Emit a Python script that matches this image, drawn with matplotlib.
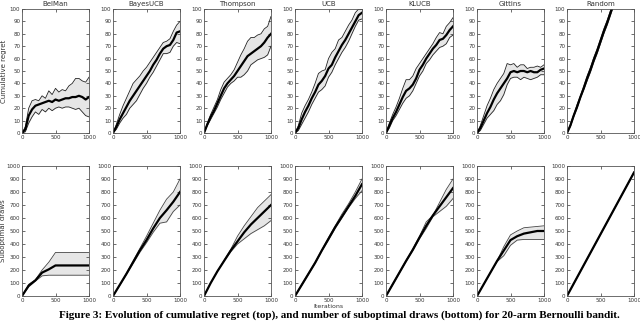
import numpy as np
import matplotlib
matplotlib.use("Agg")
import matplotlib.pyplot as plt

names = ["BelMan", "BayesUCB", "Thompson", "UCB", "KLUCB", "Gittins", "Random"]

# top row: cumulative regret, sampled every 50 iterations
x_top = np.arange(0, 1001, 50)
regret_mean = {
    "BelMan":   [0, 3, 14, 19, 22, 23, 24, 25, 26, 25, 27, 26, 27, 28, 28, 29, 29, 30, 29, 27, 29],
    "BayesUCB": [0, 5, 11, 16, 21, 26, 30, 34, 38, 42, 46, 50, 55, 59, 64, 68, 70, 71, 75, 81, 82],
    "Thompson": [0, 7, 13, 18, 24, 30, 36, 40, 43, 46, 50, 54, 58, 62, 64, 66, 68, 70, 73, 77, 80],
    "UCB":      [0, 4, 11, 17, 22, 28, 33, 39, 42, 46, 52, 55, 61, 66, 71, 75, 80, 85, 90, 95, 97],
    "KLUCB":    [0, 6, 12, 17, 23, 29, 34, 36, 39, 44, 51, 55, 60, 64, 68, 71, 75, 76, 79, 83, 86],
    "Gittins":  [0, 4, 10, 16, 21, 27, 32, 36, 40, 44, 49, 50, 49, 50, 50, 49, 50, 49, 49, 51, 52],
    "Random":   [0, 6, 14, 21, 29, 36, 44, 51, 59, 66, 74, 82, 89, 97, 105, 112, 120, 127, 135, 142, 150],
}
regret_upper = {
    "BelMan":   [0, 5, 20, 26, 27, 26, 30, 28, 34, 31, 36, 33, 35, 34, 38, 40, 44, 44, 42, 41, 45],
    "BayesUCB": [0, 7, 15, 22, 28, 34, 40, 43, 46, 50, 53, 57, 61, 65, 69, 73, 74, 76, 82, 87, 90],
    "Thompson": [0, 8, 15, 21, 27, 35, 41, 44, 47, 51, 57, 63, 68, 74, 77, 77, 79, 80, 84, 86, 94],
    "UCB":      [0, 6, 16, 22, 27, 33, 40, 48, 50, 51, 60, 65, 68, 75, 77, 82, 87, 91, 97, 100, 100],
    "KLUCB":    [0, 8, 15, 21, 28, 36, 43, 43, 46, 52, 56, 60, 64, 68, 72, 77, 81, 80, 86, 89, 93],
    "Gittins":  [0, 6, 14, 22, 28, 35, 40, 44, 48, 56, 55, 56, 53, 55, 55, 52, 53, 53, 54, 53, 55],
    "Random":   [0, 7, 15, 23, 30, 38, 46, 53, 61, 68, 76, 84, 91, 99, 107, 114, 122, 129, 137, 144, 152],
}
regret_lower = {
    "BelMan":   [0, 1, 8, 13, 17, 15, 19, 17, 20, 18, 20, 21, 20, 21, 21, 20, 19, 20, 17, 14, 13],
    "BayesUCB": [0, 3, 8, 12, 15, 20, 23, 26, 31, 36, 40, 45, 49, 54, 59, 64, 64, 65, 70, 73, 72],
    "Thompson": [0, 6, 11, 16, 21, 27, 32, 37, 40, 42, 45, 45, 47, 50, 55, 57, 59, 60, 61, 63, 70],
    "UCB":      [0, 2, 7, 12, 17, 23, 28, 33, 35, 38, 45, 49, 55, 60, 65, 69, 74, 80, 86, 91, 92],
    "KLUCB":    [0, 4, 10, 14, 19, 24, 28, 30, 34, 40, 46, 50, 56, 59, 63, 66, 69, 70, 72, 77, 79],
    "Gittins":  [0, 2, 7, 12, 15, 18, 23, 26, 31, 39, 44, 45, 45, 43, 45, 44, 43, 44, 45, 47, 47],
    "Random":   [0, 5, 13, 20, 28, 35, 42, 49, 57, 64, 72, 80, 87, 95, 103, 110, 118, 125, 133, 140, 148],
}

# bottom row: suboptimal draws, sampled every 100 iterations
x_bot = np.arange(0, 1001, 100)
draws_mean = {
    "BelMan":   [0, 80, 120, 180, 205, 235, 235, 235, 235, 235, 235],
    "BayesUCB": [0, 85, 170, 260, 350, 430, 520, 600, 660, 725, 800],
    "Thompson": [0, 100, 190, 270, 350, 420, 490, 550, 600, 650, 700],
    "UCB":      [0, 85, 170, 255, 350, 440, 530, 610, 690, 770, 860],
    "KLUCB":    [0, 90, 180, 270, 355, 450, 540, 620, 690, 760, 830],
    "Gittins":  [0, 90, 180, 270, 350, 430, 460, 480, 490, 500, 500],
    "Random":   [0, 95, 190, 285, 380, 475, 570, 665, 760, 855, 950],
}
draws_upper = {
    "BelMan":   [0, 90, 125, 200, 260, 335, 335, 335, 335, 335, 335],
    "BayesUCB": [0, 85, 175, 270, 365, 460, 560, 660, 745, 800, 900],
    "Thompson": [0, 100, 190, 275, 360, 460, 540, 610, 680, 730, 780],
    "UCB":      [0, 90, 175, 260, 355, 450, 540, 630, 710, 800, 900],
    "KLUCB":    [0, 95, 185, 275, 365, 460, 570, 620, 720, 820, 900],
    "Gittins":  [0, 90, 180, 270, 380, 470, 500, 525, 530, 535, 540],
    "Random":   [0, 98, 193, 288, 383, 478, 573, 668, 763, 858, 953],
}
draws_lower = {
    "BelMan":   [0, 70, 115, 155, 160, 160, 160, 160, 160, 160, 160],
    "BayesUCB": [0, 80, 165, 250, 335, 410, 490, 560, 570, 650, 700],
    "Thompson": [0, 100, 190, 270, 340, 400, 440, 480, 510, 540, 580],
    "UCB":      [0, 80, 165, 250, 345, 430, 520, 600, 680, 750, 810],
    "KLUCB":    [0, 85, 175, 265, 350, 440, 520, 610, 650, 690, 750],
    "Gittins":  [0, 90, 180, 265, 310, 390, 430, 435, 435, 435, 435],
    "Random":   [0, 92, 187, 282, 377, 472, 567, 662, 757, 852, 947],
}

fig = plt.figure(figsize=(6.4, 3.21), dpi=100)
W, H = 640.0, 321.0
lefts = [22, 113, 204, 295, 386, 477, 567]
aw = 67


def style(ax, ymax, ystep):
    ax.set_xlim(0, 1000)
    ax.set_ylim(0, ymax)
    ax.set_xticks([0, 500, 1000])
    ax.set_yticks(np.arange(0, ymax + 1, ystep))
    ax.tick_params(direction="in", length=2, width=0.5, labelsize=4,
                   top=True, right=True, pad=1.2, colors="#333333")
    for s in ax.spines.values():
        s.set_linewidth(0.6)
        s.set_color("#555555")


for i, n in enumerate(names):
    # top panel
    ax = fig.add_axes([lefts[i] / W, 1 - 133 / H, aw / W, 124 / H])
    ax.fill_between(x_top, regret_lower[n], regret_upper[n], color="#e6e6e6", lw=0)
    ax.plot(x_top, regret_upper[n], color="#222222", lw=0.6)
    ax.plot(x_top, regret_lower[n], color="#222222", lw=0.6)
    ax.plot(x_top, regret_mean[n], color="black", lw=1.6)
    style(ax, 100, 10)
    ax.set_title(n, fontsize=5, pad=2, color="#333333")
    if i == 0:
        ax.set_ylabel("Cumulative regret", fontsize=5, labelpad=2, color="#333333")

    # bottom panel
    ax = fig.add_axes([lefts[i] / W, 1 - 296 / H, aw / W, 130 / H])
    ax.fill_between(x_bot, draws_lower[n], draws_upper[n], color="#e6e6e6", lw=0)
    ax.plot(x_bot, draws_upper[n], color="#444444", lw=0.6)
    ax.plot(x_bot, draws_lower[n], color="#444444", lw=0.6)
    ax.plot(x_bot, draws_mean[n], color="black", lw=1.6)
    style(ax, 1000, 100)
    if i == 0:
        ax.set_ylabel("Suboptimal draws", fontsize=5, labelpad=0.5, color="#333333")
    if n == "UCB":
        ax.set_xlabel("Iterations", fontsize=4.5, labelpad=1, color="#333333")

fig.text(0.53, 1 - 310 / H,
         "Figure 3: Evolution of cumulative regret (top), and number of suboptimal draws (bottom) for 20-arm Bernoulli bandit.",
         ha="center", va="top", fontsize=8, fontweight="bold", family="Liberation Serif")

fig.savefig("out.png", dpi=100)
